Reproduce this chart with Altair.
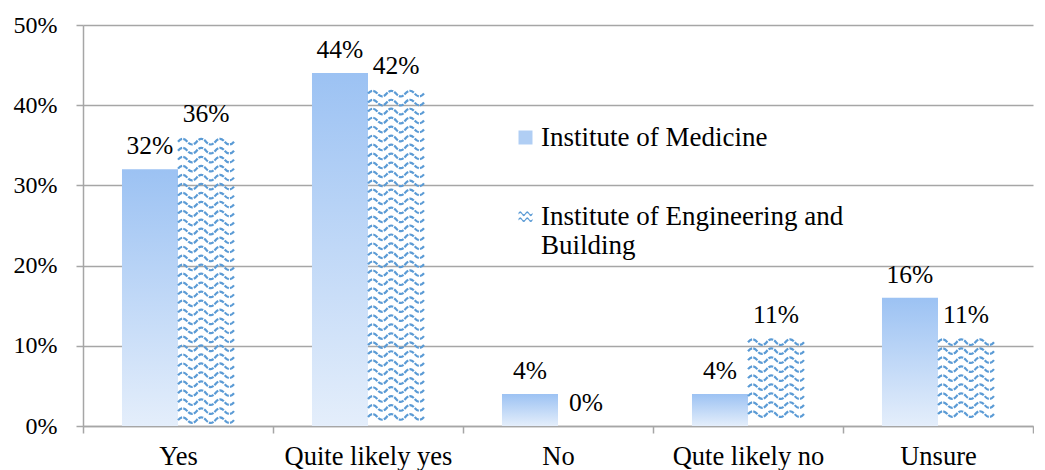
import altair as alt
import pandas as pd

categories = ["Yes", "Quite likely yes", "No", "Qute likely no", "Unsure"]
series = ["Institute of Medicine", "Institute of Engineering and Building"]
medicine = [32, 44, 4, 4, 16]
engineering = [36, 42, 0, 11, 11]
y_ticks = [0, 10, 20, 30, 40, 50]

rows = []
for c, m, e in zip(categories, medicine, engineering):
    rows.append({"category": c, "series": series[0], "value": m})
    rows.append({"category": c, "series": series[1], "value": e})
df = pd.DataFrame(rows)

# wave-pattern texture rows for the patterned series (pure styling)
ROW_STEP = 1.12
tex = []
for c, e in zip(categories, engineering):
    lv = e - 0.55
    while lv >= 0.5:
        tex.append({"category": c, "series": series[1], "level": lv})
        lv -= ROW_STEP
tex_df = pd.DataFrame(tex)

FONT = "Liberation Serif"
GRAY = "#A6A6A6"
WAVE = ("M-1,0 Q-0.8333,-0.2 -0.6667,0 T-0.3333,0 T0,0 T0.3333,0 T0.6667,0 T1,0")


def ribbon(yc, t=0.13, a=0.22):
    return (f"M-1,{yc-t} Q-0.75,{yc-t-2*a} -0.5,{yc-t} T0,{yc-t} T0.5,{yc-t} T1,{yc-t} "
            f"L1,{yc+t} Q0.75,{yc+t+2*a} 0.5,{yc+t} T0,{yc+t} T-0.5,{yc+t} T-1,{yc+t} Z")


WAVE_ICON = ribbon(-0.4) + " " + ribbon(0.45)

x_enc = alt.X(
    "category:N", sort=categories,
    scale=alt.Scale(domain=categories, paddingInner=0, paddingOuter=0),
    axis=alt.Axis(title=None, labelAngle=0, tickBand="extent", tickSize=7,
                  tickColor=GRAY, domainColor=GRAY, domainWidth=1.5, tickWidth=1.5,
                  labelFont=FONT, labelFontSize=26.5, labelColor="black",
                  labelPadding=10, labelLimit=0, grid=False),
)
xoff = alt.XOffset("series:N", sort=series,
                   scale=alt.Scale(domain=series, paddingInner=0, paddingOuter=0.696))
y_scale = alt.Scale(domain=[0, 50], nice=False)
y_axis = alt.Axis(title=None, values=y_ticks, labelExpr="datum.value + '%'",
                  grid=True, gridColor=GRAY, gridWidth=1.5, domainColor=GRAY,
                  domainWidth=1.5, tickColor=GRAY, tickWidth=1.5, tickSize=7,
                  labelPadding=19, labelFont=FONT, labelFontSize=24, labelColor="black")

base = alt.Chart(df)

grad = alt.Gradient(
    gradient="linear",
    stops=[alt.GradientStop(color="#9CC2F3", offset=0),
           alt.GradientStop(color="#E4EEFB", offset=1)],
    x1=0, x2=0, y1=0, y2=1,
)

med_bars = base.transform_filter(alt.datum.series == series[0]).mark_bar(
    color=grad
).encode(x=x_enc, xOffset=xoff,
         y=alt.Y("value:Q", scale=y_scale, axis=y_axis))

waves = alt.Chart(tex_df).mark_point(
    shape=WAVE, size=56 * 56, filled=False, strokeWidth=2.2,
    color="#5B9BD5", opacity=1, strokeDash=[5, 1.2]
).encode(x=x_enc, xOffset=xoff, y=alt.Y("level:Q", scale=y_scale))

labels = base.transform_calculate(lbl="datum.value + '%'").mark_text(
    font=FONT, fontSize=25.5, color="black", dy=-23, baseline="middle"
).encode(x=x_enc, xOffset=xoff, y=alt.Y("value:Q", scale=y_scale), text="lbl:N")

leg = dict(title=None, orient="none", legendX=429, legendY=99, symbolSize=196,
           labelFont=FONT, labelFontSize=27, labelColor="black", labelLimit=600,
           rowPadding=51, labelOffset=2, padding=0, symbolStrokeWidth=0,
           labelExpr=("datum.label == 'Institute of Engineering and Building' ? "
                      "['Institute of Engineering and', 'Building'] : datum.label"))

legend_layer = alt.Chart(pd.DataFrame({"series": series})).transform_filter(
    "false"
).mark_point(filled=True, opacity=1).encode(
    color=alt.Color("series:N", sort=series,
                    scale=alt.Scale(domain=series, range=["#B0CEF4", "#5B9BD5"]),
                    legend=alt.Legend(**leg)),
    shape=alt.Shape("series:N", sort=series,
                    scale=alt.Scale(domain=series, range=["square", WAVE_ICON]),
                    legend=alt.Legend(**leg)),
)

chart = alt.layer(med_bars, waves, labels, legend_layer).properties(
    width=950, height=401,
    padding={"left": 5, "top": 5, "right": 0, "bottom": 0},
).configure_view(stroke=None)

chart.save("out.html", embed_options={"renderer": "svg", "actions": False})
